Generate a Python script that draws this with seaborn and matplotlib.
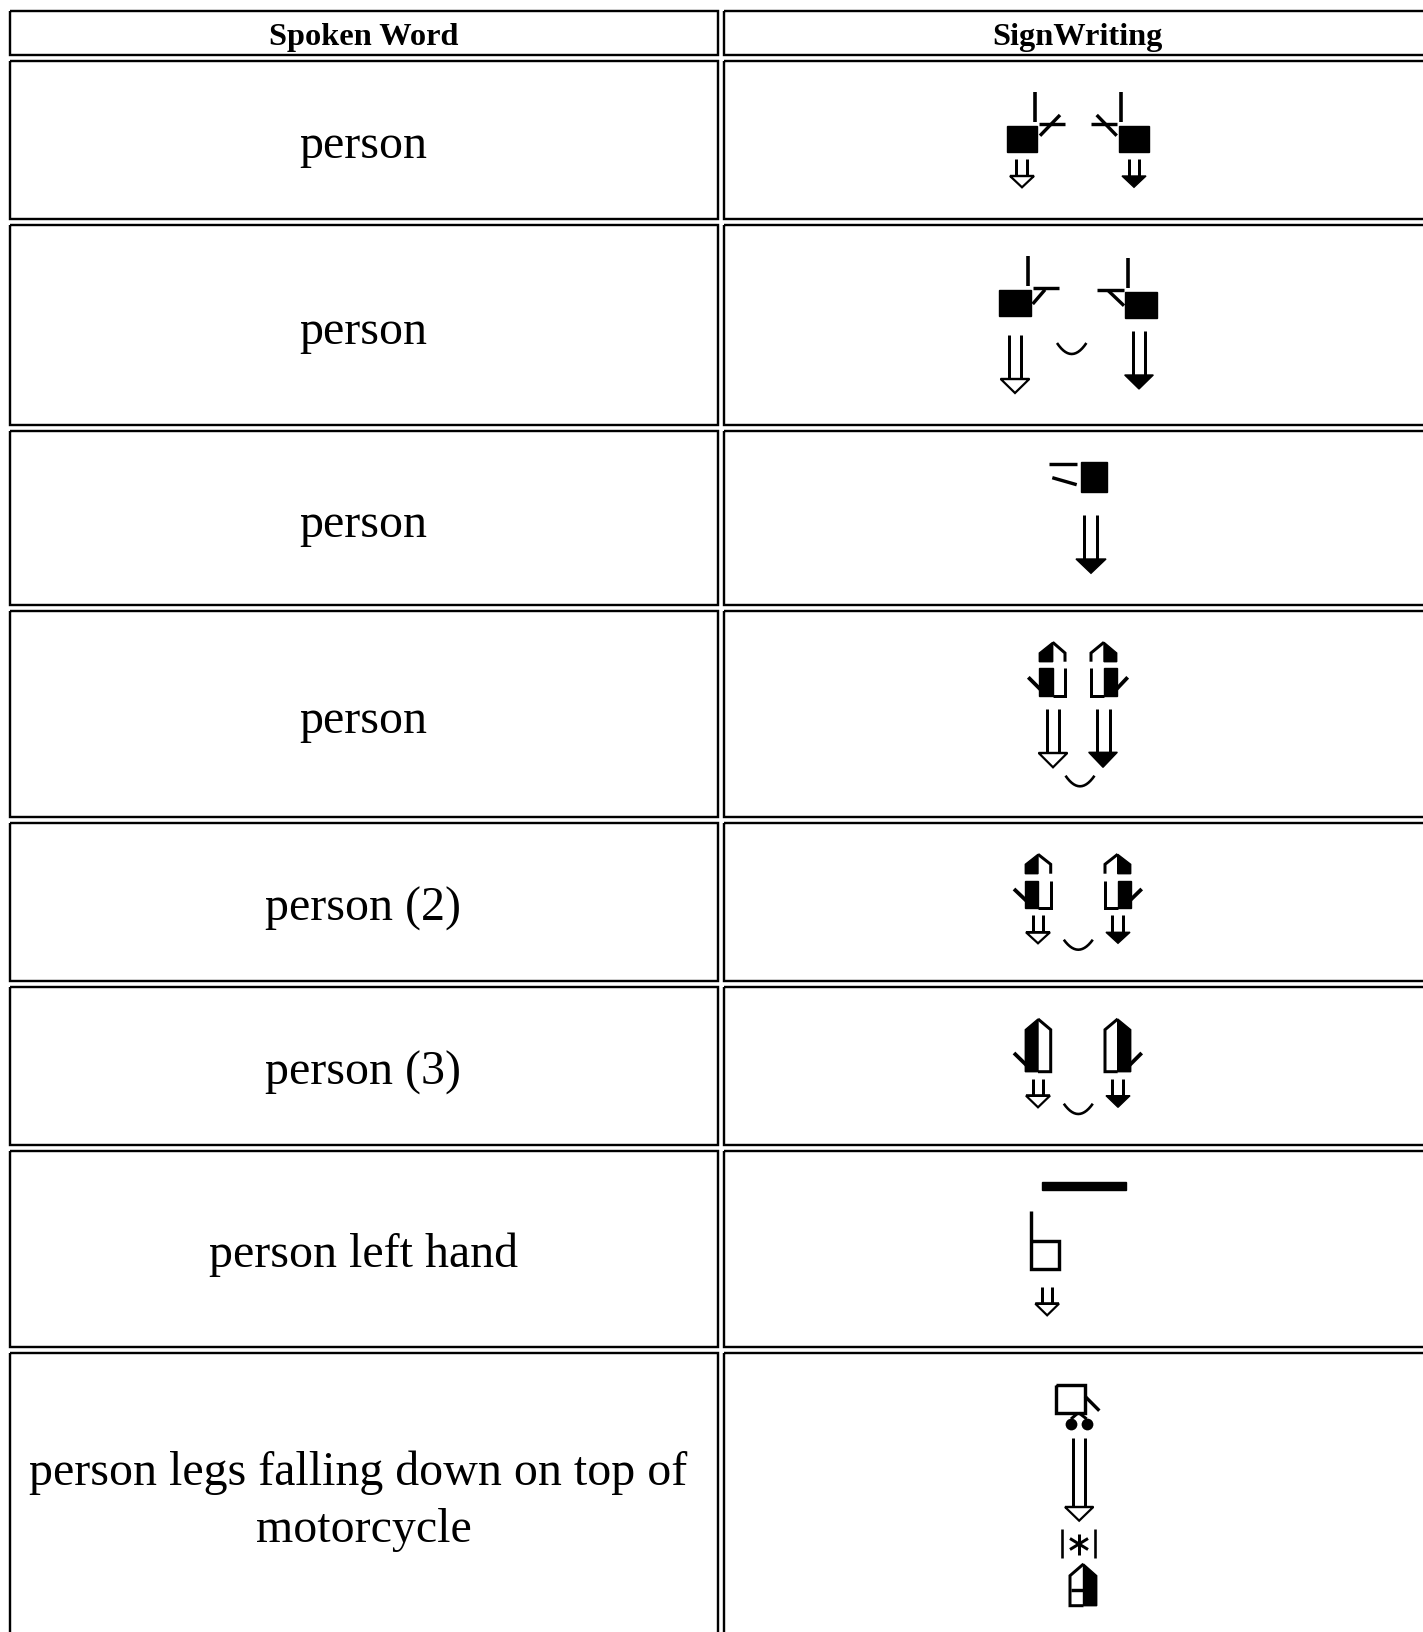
import numpy as np
import pandas as pd
import matplotlib
matplotlib.use('Agg')
import matplotlib.pyplot as plt
import seaborn as sns

# Table text
headers = ['Spoken Word', 'SignWriting']
words = ['person', 'person', 'person', 'person', 'person (2)', 'person (3)',
         'person left hand', 'person legs falling down on top of', 'motorcycle']
word_baselines = [158.3, 344, 537, 733, 920.5, 1085, 1267.5, 1485, 1541.7]
word_centers = [363.4, 363.4, 363.4, 363.4, 363.4, 363.4, 363.4, 358, 363.4]

# Table grid, in image pixels
row_tops = [12, 62, 226, 432, 612, 823.7, 987.8, 1151.5, 1354]
row_bottoms = [55.8, 219.8, 426, 606, 818, 982, 1146, 1348, 1650]
col_lefts = [10.3, 724.2]
col_rights = [718.2, 1440]

# Black squares: x0, x1, y0, y1
squares = [(1006.7, 1037.3, 127.3, 153.3), (1119, 1149, 127.3, 153.3),
           (998.7, 1030.7, 291.3, 317.3), (1125.3, 1157.3, 293.3, 319.3),
           (1080.7, 1107, 463, 493), (1042, 1126, 1182.7, 1191.3)]

# Arrows: left stem, right stem, stem top, head y, head left, head right, tip y, filled
arrows = [(1016, 1026.7, 160, 177, 1010, 1034, 188.3, False),
          (1128.7, 1139.3, 160, 177, 1122, 1146, 188.3, True),
          (1009, 1020.7, 336, 380, 1000.7, 1029.3, 394, False),
          (1132.7, 1144.7, 332, 376, 1124.7, 1153.3, 390, True),
          (1084.3, 1097.3, 516, 560, 1076, 1106, 574.3, True),
          (1046.7, 1059.3, 710, 754, 1038.7, 1067.3, 768.3, False),
          (1097.3, 1110, 710, 753.3, 1088.7, 1117.3, 768.3, True),
          (1032.7, 1043.3, 916, 933.3, 1026, 1050, 944.3, False),
          (1112.3, 1123.3, 916, 933.3, 1106, 1130, 944.3, True),
          (1032.7, 1043.3, 1080, 1096.7, 1026, 1050, 1108.3, False),
          (1112.3, 1123.3, 1080, 1096.7, 1106, 1130, 1108.3, True),
          (1041.7, 1052.3, 1288.3, 1304.7, 1035.3, 1059, 1316.3, False),
          (1073, 1085, 1439.3, 1508, 1065, 1093.3, 1521.7, False)]

# Smiles: left x, mid x, right x, top y, bottom y
smiles = [(1057.3, 1071.7, 1086.7, 344, 355),
          (1065.3, 1080, 1094.3, 776.7, 787.3),
          (1063.7, 1078.3, 1092.7, 940.7, 950.7),
          (1063.7, 1078.3, 1092.7, 1104.7, 1115)]

# Hands: black x, mid x, white x, apex y, shoulder y, gap top, gap bottom, bottom y
hands = [(1039.3, 1052.7, 1065, 643.3, 654, 662.7, 669.3, 696.7),
         (1116.7, 1104, 1091, 643.3, 654, 662.7, 669.3, 696.7),
         (1025.3, 1038, 1050.7, 855.3, 865.3, 874.7, 881.7, 909.3),
         (1130.7, 1117.7, 1105, 855.3, 865.3, 874.7, 881.7, 909.3),
         (1025.3, 1038, 1050.7, 1020, 1030.7, None, None, 1072.7),
         (1130.7, 1117.7, 1105, 1020, 1030.7, None, None, 1072.7),
         (1096.7, 1083.5, 1070, 1565, 1576.7, None, None, 1606.7)]

# Free strokes: line width in pixels, then the points
free_strokes = [
    (3.6, [(1035, 93.3), (1035, 122.7)]), (3.4, [(1039, 125.3), (1065, 125.3)]),
    (3.4, [(1040, 136.7), (1060, 116)]),
    (3.6, [(1121, 93.3), (1121, 122.7)]), (3.4, [(1091, 125.3), (1116.7, 125.3)]),
    (3.4, [(1096.7, 116), (1116.7, 136.7)]),
    (3.6, [(1028, 257.3), (1028, 286.7)]), (3.4, [(1032.7, 289.3), (1059.3, 289.3)]),
    (3.4, [(1032.7, 305), (1045, 290.7)]),
    (3.6, [(1128, 259.3), (1128, 288.7)]), (3.4, [(1096.7, 290.7), (1124, 290.7)]),
    (3.4, [(1108.3, 291.7), (1124, 306.7)]),
    (3.4, [(1049, 465), (1077, 465)]), (3.4, [(1052.3, 478.7), (1076.7, 485.7)]),
    (3.8, [(1028.3, 678.3), (1041, 691)]), (3.8, [(1115.7, 691), (1127.7, 678.3)]),
    (3.8, [(1014, 890), (1026.3, 901.7)]), (3.8, [(1129.7, 901.7), (1141.7, 890)]),
    (3.8, [(1014, 1054), (1026.3, 1066)]), (3.8, [(1129.7, 1066), (1141.7, 1054)]),
    (3.4, [(1031.3, 1211.7), (1031.3, 1270), (1059.3, 1270), (1059.3, 1241.7), (1031.3, 1241.7)]),
    (3.4, [(1056, 1386), (1085, 1386), (1085, 1414.3), (1056, 1414.3), (1056, 1386)]),
    (3.4, [(1085, 1397.3), (1099.3, 1411.7)]),
    (3, [(1071, 1420), (1078, 1414)]), (3, [(1086.7, 1420), (1079, 1414)]),
    (2.6, [(1061.7, 1530), (1061.7, 1559)]), (2.6, [(1095, 1530), (1095, 1559)]),
    (3, [(1079, 1534.5), (1079, 1555.5)]), (3, [(1070, 1539.5), (1088, 1550.5)]),
    (3, [(1070, 1550.5), (1088, 1539.5)]),
    (3.4, [(1071, 1591), (1085, 1591)]),
]
dot_x = [1070.7, 1087.3]
dot_y = [1425, 1425]

sns.set_theme(style='white')
fig = plt.figure(figsize=(14.23, 16.33), dpi=100, facecolor='white')
ax = fig.add_axes([0, 0, 1, 1])

strokes = list(free_strokes)
polys = []

# Cell borders
for top, bottom in zip(row_tops, row_bottoms):
    for left, right in zip(col_lefts, col_rights):
        strokes.append((2.4, [(left, top), (right, top), (right, bottom), (left, bottom), (left, top)]))

for x0, x1, y0, y1 in squares:
    polys.append([(x0, y0), (x1, y0), (x1, y1), (x0, y1)])

for sx0, sx1, top, head, hx0, hx1, tip, filled in arrows:
    strokes.append((3, [(sx0, top), (sx0, head)]))
    strokes.append((3, [(sx1, top), (sx1, head)]))
    tri = [(hx0, head), (hx1, head), ((hx0 + hx1) / 2, tip)]
    if filled:
        polys.append(tri)
    else:
        strokes.append((2.2, tri + [tri[0], tri[1]]))

for x0, xm, x1, top, bottom in smiles:
    t = np.linspace(-1, 1, 15)
    pts = [(xm + u * (x1 - x0) / 2, bottom - u * u * (bottom - top)) for u in t]
    strokes.append((2.6, pts))

for xb, xm, xw, apex, shoulder, gap_top, gap_bot, bottom in hands:
    if gap_top is None:
        polys.append([(xb, bottom), (xb, shoulder), (xm, apex), (xm, bottom)])
        strokes.append((3, [(xm, apex), (xw, shoulder), (xw, bottom), (xm, bottom)]))
    else:
        polys.append([(xb, gap_top), (xb, shoulder), (xm, apex), (xm, gap_top)])
        polys.append([(xb, gap_bot), (xm, gap_bot), (xm, bottom), (xb, bottom)])
        strokes.append((3, [(xm, apex), (xw, shoulder), (xw, gap_top)]))
        strokes.append((3, [(xw, gap_bot), (xw, bottom), (xm, bottom)]))

# All line work goes through one long table
rows = []
for i, (lw, pts) in enumerate(strokes):
    for order, (x, y) in enumerate(pts):
        rows.append({'stroke': i, 'order': order, 'x': x, 'y': y, 'lw': lw})
lines = pd.DataFrame(rows)
widths = {lw: lw * 0.72 for lw in lines['lw'].unique()}
sns.lineplot(data=lines, x='x', y='y', units='stroke', estimator=None, sort=False,
             size='lw', sizes=widths, color='black', legend=False, ax=ax,
             solid_capstyle='butt', solid_joinstyle='miter')

for poly in polys:
    xs, ys = zip(*poly)
    ax.fill(xs, ys, color='black', lw=1)

sns.scatterplot(x=dot_x, y=dot_y, s=72, color='black', linewidth=0, ax=ax)

serif = 'Liberation Serif'
header_mid = [363.2, 1077]
for x, label in zip(header_mid, headers):
    ax.text(x, 44.5, label, family=serif, weight='bold', fontsize=23.3, ha='center', va='baseline', color='black')
for x, y, label in zip(word_centers, word_baselines, words):
    ax.text(x, y, label, family=serif, fontsize=34.5, ha='center', va='baseline', color='black')

ax.set_xlim(0, 1423)
ax.set_ylim(1633, 0)
ax.axis('off')
fig.savefig('out.png', dpi=100, facecolor='white')
